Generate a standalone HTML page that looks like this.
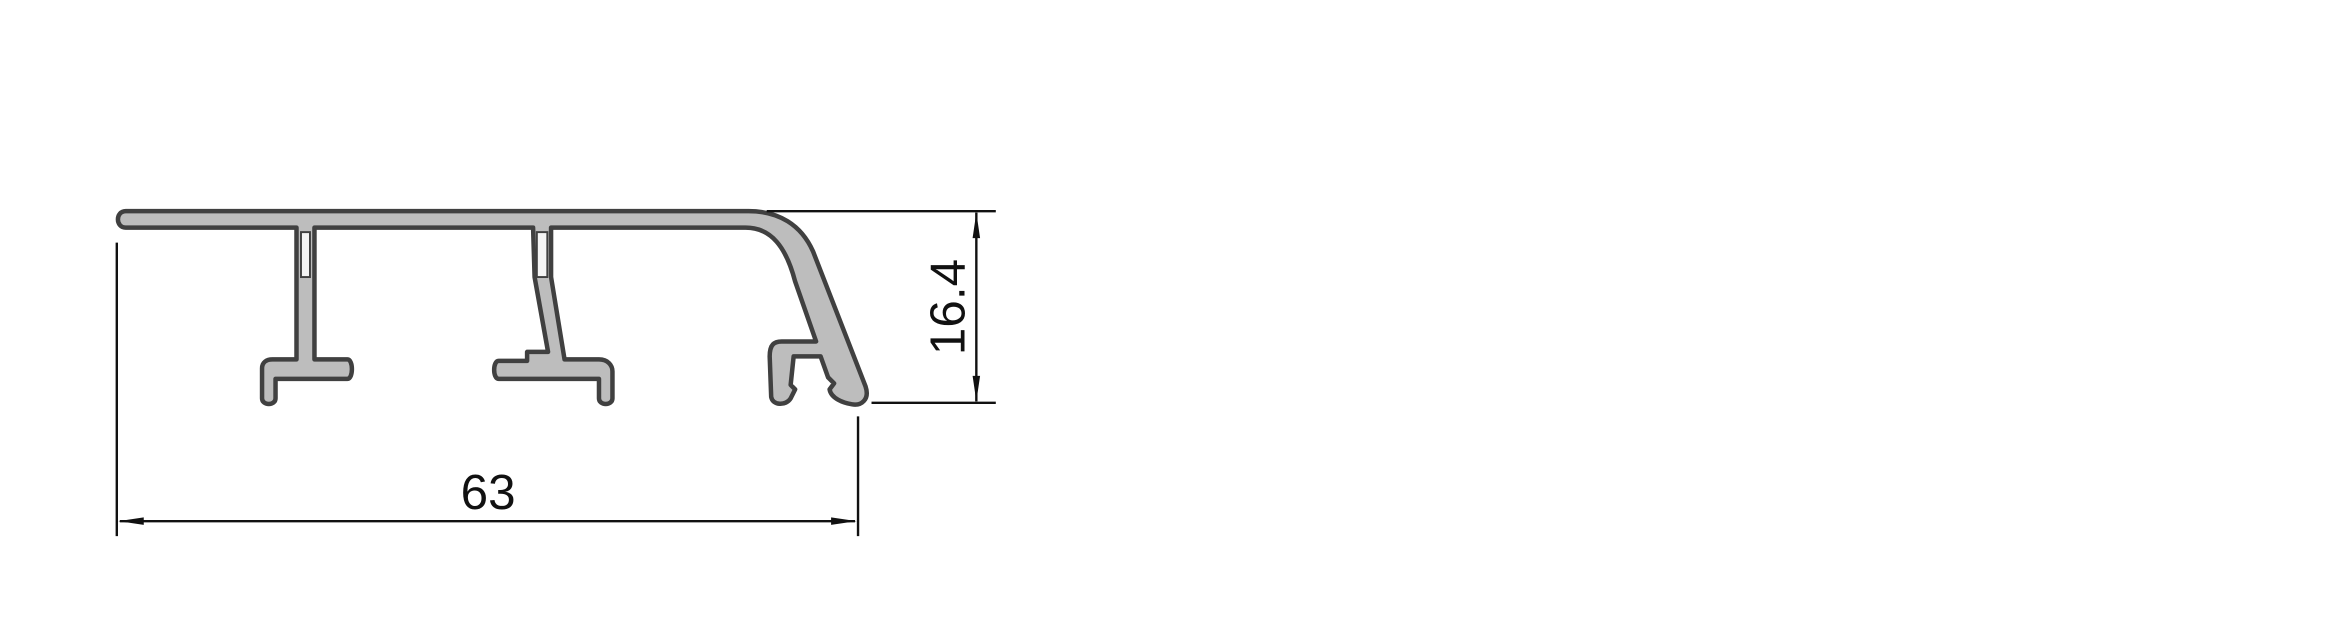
<!DOCTYPE html>
<html><head><meta charset="utf-8"><style>
html,body{margin:0;padding:0;background:#fff;width:2348px;height:617px;overflow:hidden}
svg{display:block}
text{font-family:"Liberation Sans",sans-serif;fill:#111}
</style></head><body>
<svg width="2348" height="617" viewBox="0 0 1568 412" preserveAspectRatio="none">
<rect width="1568" height="412" fill="#fff"/>
<path fill="#bdbdbd" stroke="#404040" stroke-width="3" stroke-linejoin="round"
d="M 84 141 L 500 141 C 520 141 535 150 543 168 L 578 258 C 581 267 575 271 569 270 C 563 269 555 266 554 260 L 557 256 L 553 252 L 548 238 L 530 238 L 528 257 L 531 260 L 528 266 C 525 271 516 271 515 265 L 514 238 C 514 230 517 228 522 228 L 545 228 L 531 188 C 525 165 515 152 498 152 L 368 152 L 368 185 L 377 240 L 400 240 C 406 240 409 244 409 248 L 409 266 C 409 271 400 271 400 266 L 400 253 L 333 253 C 329 253 329 241 333 241 L 352 241 L 352 235 L 358 235 L 366 235 L 357 185 L 356 152 L 210 152 L 210 240 L 232 240 C 236 240 236 253 232 253 L 184 253 L 184 266 C 184 271 175 271 175 266 L 175 246 C 175 242 178 240 182 240 L 198 240 L 198 152 L 84 152 C 77 152 77 141 84 141 Z"/>
<rect x="201" y="155" width="6" height="30" fill="#f4f4f4" stroke="#404040" stroke-width="1.3"/>
<rect x="358.5" y="155" width="7" height="30" fill="#f4f4f4" stroke="#404040" stroke-width="1.3"/>
<g stroke="#111" stroke-width="1.6">
<line x1="78" y1="162" x2="78" y2="358"/>
<line x1="573" y1="278" x2="573" y2="358"/>
<line x1="80" y1="348" x2="571" y2="348"/>
</g>
<polygon points="79,348 96,345.5 96,350.5" fill="#111"/>
<polygon points="572,348 555,345.5 555,350.5" fill="#111"/>
<text x="326" y="340" font-size="33" text-anchor="middle">63</text>
<g stroke="#111" stroke-width="1.6">
<line x1="512" y1="141" x2="665" y2="141"/>
<line x1="582" y1="269" x2="665" y2="269"/>
<line x1="652" y1="142" x2="652" y2="268"/>
</g>
<polygon points="652,142 649.5,159 654.5,159" fill="#111"/>
<polygon points="652,268 649.5,251 654.5,251" fill="#111"/>
<text x="0" y="0" font-size="33" text-anchor="middle" transform="translate(644,205) rotate(-90)">16.4</text>
</svg>
</body></html>
